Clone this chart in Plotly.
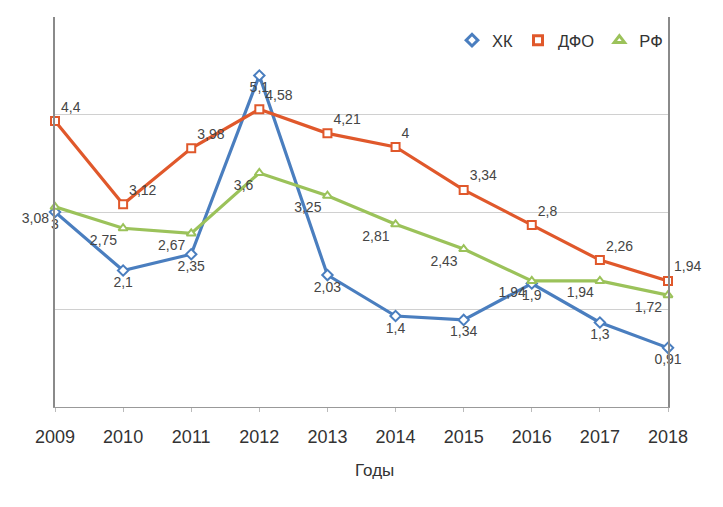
import plotly.graph_objects as go

years = [2009, 2010, 2011, 2012, 2013, 2014, 2015, 2016, 2017, 2018]
hk = [3, 2.1, 2.35, 5.1, 2.03, 1.4, 1.34, 1.9, 1.3, 0.91]
dfo = [4.4, 3.12, 3.98, 4.58, 4.21, 4, 3.34, 2.8, 2.26, 1.94]
rf = [3.08, 2.75, 2.67, 3.6, 3.25, 2.81, 2.43, 1.94, 1.94, 1.72]

names = ["ХК", "ДФО", "РФ"]
colors = ["#4a7ebf", "#e0582b", "#9bc25a"]
symbols = ["diamond", "square", "triangle-up"]
positions = ["bottom center", "top right", "bottom left"]
x_title = "Годы"


def lab(vals):
    return [("%g" % v).replace(".", ",") for v in vals]


fig = go.Figure()
for vals, name, col, sym, pos in zip([hk, dfo, rf], names, colors, symbols, positions):
    fig.add_trace(go.Scatter(
        x=years, y=vals, name=name, mode="lines+markers+text",
        text=lab(vals), textposition=pos, cliponaxis=False, showlegend=False,
        line=dict(color=col, width=3.2),
        marker=dict(symbol=sym, size=8, color="white", line=dict(color=col, width=2)),
        textfont=dict(color="#454545", size=14),
    ))
# legend entries (marker only, as in the reference legend)
for name, col, sym in zip(names, colors, symbols):
    fig.add_trace(go.Scatter(
        x=[None], y=[None], name=name, mode="markers",
        marker=dict(symbol=sym, size=9, color="white", line=dict(color=col, width=3)),
    ))

fig.update_layout(
    width=715, height=499,
    margin=dict(l=47, r=55, t=9, b=100),
    paper_bgcolor="white", plot_bgcolor="white",
    font=dict(family="Liberation Sans, Arial, sans-serif", color="#333333"),
    showlegend=True,
    legend=dict(orientation="h", x=1.0, xanchor="right", y=0.94, yanchor="middle",
                font=dict(size=16.5, color="#333333"), bgcolor="rgba(0,0,0,0)",
                itemwidth=30),
    xaxis=dict(
        range=[2009, 2018], tickvals=years, ticktext=[str(y) for y in years],
        showgrid=False, zeroline=False, showline=True, linecolor="#999999", linewidth=1,
        ticks="outside", ticklen=4, tickcolor="#bbbbbb", automargin=False,
        ticklabelstandoff=9,
        tickfont=dict(size=18, color="#333333"),
    ),
    yaxis=dict(
        range=[0, 6], tickvals=[1.5, 3, 4.5], showticklabels=False, automargin=False,
        showgrid=True, gridcolor="#d0d0d0", gridwidth=1, zeroline=False,
        showline=True, mirror=True, linecolor="#8a8a8a", linewidth=1.5,
    ),
    annotations=[dict(text=x_title, xref="paper", yref="paper", x=0.522, y=-0.163,
                      xanchor="center", yanchor="middle", showarrow=False,
                      font=dict(size=17, color="#333333"))],
)

fig.write_html("out.html")
